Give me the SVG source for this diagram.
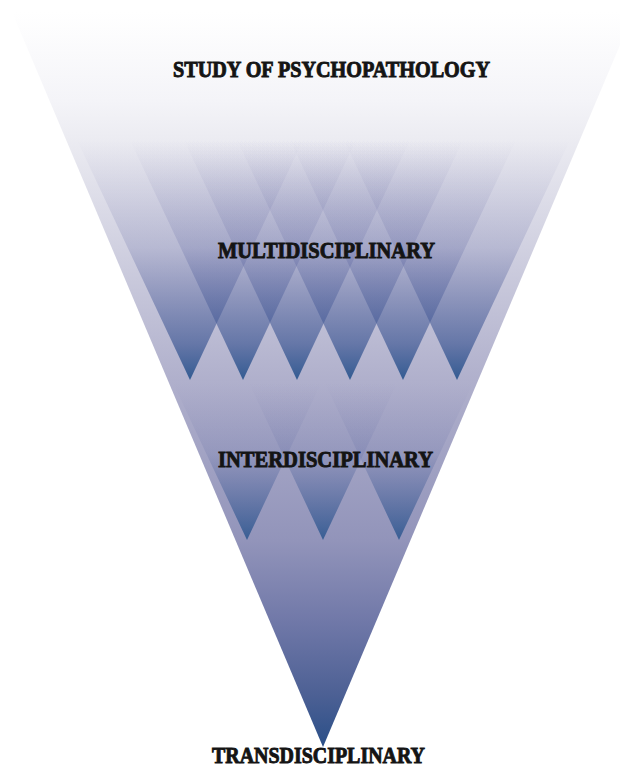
<svg xmlns="http://www.w3.org/2000/svg" width="620" height="773" viewBox="0 0 620 773">
  <defs>
    <linearGradient id="gMain" gradientUnits="userSpaceOnUse" x1="0" y1="12" x2="0" y2="747">
      <stop offset="0" stop-color="#ffffff"/>
      <stop offset="0.12" stop-color="#f4f4f8"/>
      <stop offset="0.17" stop-color="#ececf2"/>
      <stop offset="0.5" stop-color="#b0b0cc"/>
      <stop offset="0.72" stop-color="#9294ba"/>
      <stop offset="0.83" stop-color="#7078a8"/>
      <stop offset="0.93" stop-color="#4c6094"/>
      <stop offset="1" stop-color="#2a4f88"/>
    </linearGradient>
    <linearGradient id="gMulti" gradientUnits="userSpaceOnUse" x1="0" y1="140" x2="0" y2="380">
      <stop offset="0" stop-color="#7070a6" stop-opacity="0"/>
      <stop offset="0.45" stop-color="#5c64a0" stop-opacity="0.22"/>
      <stop offset="0.85" stop-color="#3e5894" stop-opacity="0.68"/>
      <stop offset="1" stop-color="#2c578f" stop-opacity="0.95"/>
    </linearGradient>
    <linearGradient id="gInter" gradientUnits="userSpaceOnUse" x1="0" y1="383" x2="0" y2="540">
      <stop offset="0" stop-color="#6a6ca4" stop-opacity="0"/>
      <stop offset="0.45" stop-color="#56649e" stop-opacity="0.18"/>
      <stop offset="1" stop-color="#2c578f" stop-opacity="0.88"/>
    </linearGradient>
    <style>
      .lbl { font-family: "Liberation Serif", "DejaVu Serif", serif; font-weight: bold; font-size: 24px; fill: #141414; stroke: #141414; stroke-width: 1px; }
      .multi { fill: url(#gMulti); }
      .inter { fill: url(#gInter); }
    </style>
  </defs>

  <g id="main-triangle">
    <polygon points="12,12 634,12 323,747" fill="url(#gMain)"/>
  </g>

  <g id="multidisciplinary-triangles">
    <polygon class="multi" points="77,140 303,140 190,380"/>
    <polygon class="multi" points="130,140 356,140 243,380"/>
    <polygon class="multi" points="184,140 410,140 297,380"/>
    <polygon class="multi" points="237,140 463,140 350,380"/>
    <polygon class="multi" points="290,140 516,140 403,380"/>
    <polygon class="multi" points="344,140 570,140 457,380"/>
  </g>

  <g id="interdisciplinary-triangles">
    <polygon class="inter" points="173,383 321,383 247,540"/>
    <polygon class="inter" points="249,383 397,383 323,540"/>
    <polygon class="inter" points="325,383 473,383 399,540"/>
  </g>

  <g id="labels">
    <text id="label-study" class="lbl" x="173" y="77" textLength="317" lengthAdjust="spacingAndGlyphs">STUDY OF PSYCHOPATHOLOGY</text>
    <text id="label-multi" class="lbl" x="218" y="258" textLength="217" lengthAdjust="spacingAndGlyphs">MULTIDISCIPLINARY</text>
    <text id="label-inter" class="lbl" x="218" y="467" textLength="215" lengthAdjust="spacingAndGlyphs">INTERDISCIPLINARY</text>
    <text id="label-trans" class="lbl" x="212" y="763" textLength="213" lengthAdjust="spacingAndGlyphs">TRANSDISCIPLINARY</text>
  </g>
</svg>
